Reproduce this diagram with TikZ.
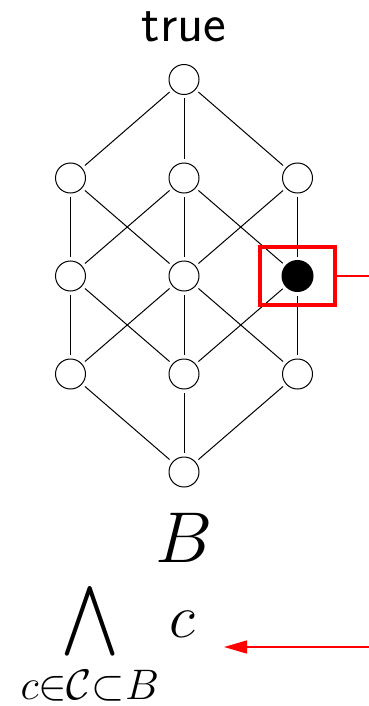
\RequirePackage{fix-cm}
\documentclass[tikz,border=0pt]{standalone}
\usepackage{amsmath}
\usepackage{tikz}
\usetikzlibrary{arrows.meta}

\begin{document}
\begin{tikzpicture}[x=0.5pt, y=-0.5pt, line width=0.5pt,
    elem/.style={draw, circle, minimum size=15pt, inner sep=0pt, outer sep=2pt},
    chosen/.style={elem, fill=black, minimum size=15.5pt}]
      \useasboundingbox (0,0) rectangle (369,706);

      % lattice
      \node[elem]   (T)   at (184,  79.5) {};
      \node[elem]   (L1)  at ( 70.5, 178) {};
      \node[elem]   (M1)  at (184,   178) {};
      \node[elem]   (R1)  at (297.5, 178) {};
      \node[elem]   (L2)  at ( 70.5, 276) {};
      \node[elem]   (M2)  at (184,   276) {};
      \node[chosen] (R2)  at (297.5, 276) {};
      \node[elem]   (L3)  at ( 70.5, 374) {};
      \node[elem]   (M3)  at (184,   374) {};
      \node[elem]   (R3)  at (297.5, 374) {};
      \node[elem]   (Bot) at (184,   472) {};

      \draw (T) -- (L1);
      \draw (T) -- (M1);
      \draw (T) -- (R1);

      \draw (L1) -- (L2);
      \draw (L1) -- (M2);
      \draw (M1) -- (L2);
      \draw (M1) -- (M2);
      \draw (M1) -- (R2);
      \draw (R1) -- (M2);
      \draw (R1) -- (R2);

      \draw (L2) -- (L3);
      \draw (L2) -- (M3);
      \draw (M2) -- (L3);
      \draw (M2) -- (M3);
      \draw (M2) -- (R3);
      \draw (R2) -- (M3);
      \draw (R2) -- (R3);

      \draw (L3) -- (Bot);
      \draw (M3) -- (Bot);
      \draw (R3) -- (Bot);

      % labels
      \node[anchor=base, font=\fontsize{27}{32}\sffamily] (top) at (184, 42) {true};
      \node[anchor=base, font=\fontsize{36}{40}\selectfont] (set) at (184, 562) {$B$};
      \node[anchor=base west, inner sep=0pt, font=\fontsize{30.5}{36}\selectfont] (meet) at (20, 637)
          {$\displaystyle\bigwedge_{c\in\mathcal{C}\subset B} c$};

      % highlight
      \node[draw=red, line width=2pt, minimum width=37.5pt, minimum height=29pt, outer sep=0pt] (box) at (297.5, 276) {};
      \coordinate (boxend) at (369, 276);
      \draw[red, line width=0.7pt] (box) -- (boxend);

      \coordinate (arrfrom) at (369, 647);
      \coordinate (arrto)   at (224, 647);
      \draw[red, line width=0.7pt, -{Triangle[length=11.5pt, width=6.5pt]}] (arrfrom) -- (arrto);
    \end{tikzpicture}
\end{document}
